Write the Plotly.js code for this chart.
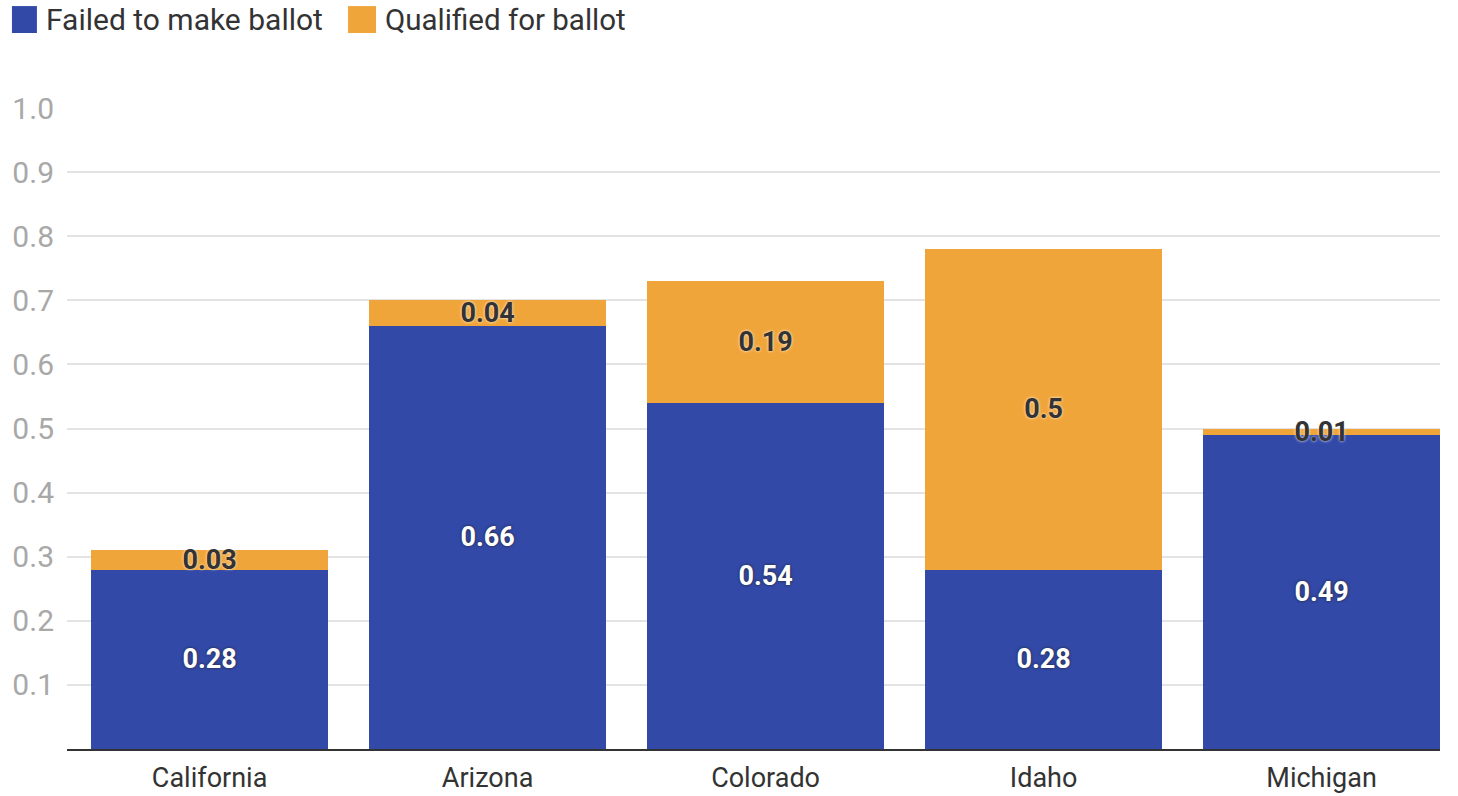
<!DOCTYPE html>
<html><head><meta charset="utf-8">
<script src="https://cdn.plot.ly/plotly-3.0.1.min.js"></script>
<style>html,body{margin:0;padding:0;background:#fff}#chart{width:1458px;height:796px}</style>
</head><body><div id="chart"></div>
<script>
const states = ["California", "Arizona", "Colorado", "Idaho", "Michigan"];
const failed = [0.28, 0.66, 0.54, 0.28, 0.49];
const qualified = [0.03, 0.04, 0.19, 0.5, 0.01];
const seriesNames = ["Failed to make ballot", "Qualified for ballot"];
const yTicks = [0.1, 0.2, 0.3, 0.4, 0.5, 0.6, 0.7, 0.8, 0.9, 1.0];
const colors = ["#3249A8", "#F0A53A"];

const traces = [
  {type: "bar", name: seriesNames[0], x: states, y: failed, marker: {color: colors[0]},
   text: failed.map(String), textposition: "inside", insidetextanchor: "middle", constraintext: "none",
   textfont: {family: "Roboto", size: 27, color: "#fff", weight: 700, shadow: "0px 0px 3px #222"},
   hoverinfo: "none"},
  {type: "bar", name: seriesNames[1], x: states, y: qualified, marker: {color: colors[1]},
   text: qualified.map(String), textposition: "inside", insidetextanchor: "middle", constraintext: "none",
   textfont: {family: "Roboto", size: 27, color: "#333", weight: 700, shadow: "0px 0px 3px #fff"},
   hoverinfo: "none"}
];

const shapes = [
  {type: "rect", xref: "paper", yref: "paper", x0: -0.0401, x1: -0.0219, y0: 1.117, y1: 1.159, fillcolor: colors[0], line: {width: 0}},
  {type: "rect", xref: "paper", yref: "paper", x0: 0.2047, x1: 0.2251, y0: 1.117, y1: 1.159, fillcolor: colors[1], line: {width: 0}}
];
const annotations = [
  {xref: "paper", yref: "paper", x: -0.0165, y: 1.138, xanchor: "left", yanchor: "middle", showarrow: false,
   text: seriesNames[0], font: {family: "Roboto", size: 30, color: "#333"}},
  {xref: "paper", yref: "paper", x: 0.2305, y: 1.138, xanchor: "left", yanchor: "middle", showarrow: false,
   text: seriesNames[1], font: {family: "Roboto", size: 29.5, color: "#333"}}
];

const layout = {
  width: 1458, height: 796,
  margin: {l: 67, r: 18, t: 108, b: 47, pad: 0},
  paper_bgcolor: "#fff", plot_bgcolor: "#fff",
  barmode: "stack", bargap: 0.147,
  showlegend: false,
  font: {family: "Roboto", color: "#333"},
  xaxis: {type: "category", range: [-0.513, 4.426], showgrid: false, showline: true, linecolor: "#333", linewidth: 2,
          ticks: "", tickfont: {family: "Roboto", size: 27, color: "#333"}, ticklabelstandoff: 4, fixedrange: true},
  yaxis: {range: [0, 1.0], tickvals: yTicks, ticktext: yTicks.map(v => v.toFixed(1)), showgrid: true,
          gridcolor: "#e3e3e3", gridwidth: 2, zeroline: false, showline: false,
          ticks: "", ticklabelstandoff: 12, tickfont: {family: "Roboto", size: 30, color: "#a8a8a8"}, fixedrange: true},
  shapes: shapes, annotations: annotations
};
Plotly.newPlot("chart", traces, layout, {displayModeBar: false, staticPlot: true});
</script></body></html>
